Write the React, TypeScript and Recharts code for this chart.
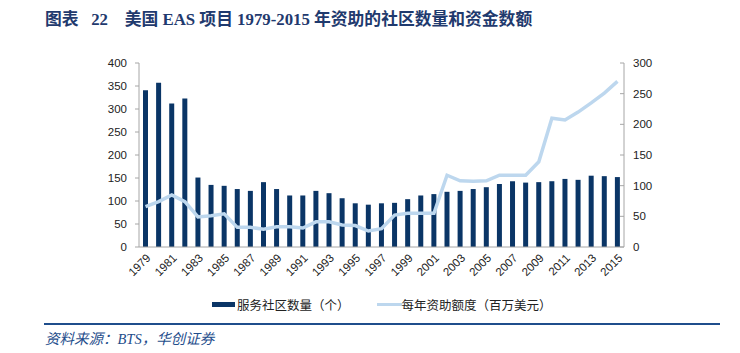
import React from "react";
import {
  ComposedChart,
  Bar,
  Line,
  XAxis,
  YAxis,
} from "recharts";

const years = [
  "1979", "1980", "1981", "1982", "1983", "1984", "1985", "1986", "1987", "1988",
  "1989", "1990", "1991", "1992", "1993", "1994", "1995", "1996", "1997", "1998",
  "1999", "2000", "2001", "2002", "2003", "2004", "2005", "2006", "2007", "2008",
  "2009", "2010", "2011", "2012", "2013", "2014", "2015",
];

// 服务社区数量（个）
const communities = [
  341, 357, 312, 323, 151, 135, 133, 126, 122, 141,
  126, 112, 112, 122, 117, 106, 95, 92, 95, 96,
  104, 112, 115, 120, 122, 126, 130, 137, 143, 140,
  141, 143, 148, 146, 155, 154, 152,
];

// 每年资助额度（百万美元）
const funding = [
  66, 74, 85, 74, 49, 51, 54, 32, 32, 29,
  33, 33, 31, 41, 41, 36, 35, 26, 30, 52,
  55, 55, 55, 117, 108, 107, 108, 117, 117, 117,
  139, 210, 207, 220, 235, 251, 270,
];

const leftTicks = [0, 50, 100, 150, 200, 250, 300, 350, 400];
const rightTicks = [0, 50, 100, 150, 200, 250, 300];

const BAR_COLOR = "#0A3566";
const LINE_COLOR = "#BDD7EE";
const AXIS_COLOR = "#A6A6A6";
const TITLE_COLOR = "#1F3A6E";
const SANS = "'Liberation Sans', Arial, sans-serif";
const CJK = "'Noto Sans CJK SC', sans-serif";

const data = years.map((y, i) => ({
  year: y,
  communities: communities[i],
  funding: funding[i],
}));

const tickStyle = { fontSize: 11.5, fill: "#222", fontFamily: SANS };

// right axis: ticks point inward, labels outside
const RightTick = (props: any) => {
  const { x, y, payload } = props;
  return (
    <g>
      <line x1={x - 4} y1={y} x2={x} y2={y} stroke={AXIS_COLOR} />
      <text x={x + 9} y={y} dy={4} textAnchor="start" {...tickStyle}>
        {payload.value}
      </text>
    </g>
  );
};

export default function App() {
  return (
    <div
      style={{
        position: "absolute",
        left: 0,
        top: 0,
        width: 740,
        height: 353,
        background: "#fff",
      }}
    >
      <div
        style={{
          position: "absolute",
          left: 45,
          top: 10,
          fontSize: 16.8,
          lineHeight: "20px",
          fontWeight: "bold",
          color: TITLE_COLOR,
          fontFamily: "'Liberation Serif', 'Noto Sans CJK SC', serif",
          whiteSpace: "nowrap",
        }}
      >
        图表{"\u2002\u00a0"}22{"\u3000"}美国 EAS 项目 1979-2015 年资助的社区数量和资金数额
      </div>

      <div style={{ position: "absolute", left: 0, top: 0 }}>
        <ComposedChart
          width={740}
          height={300}
          data={data}
          margin={{ top: 63, right: 0, left: 0, bottom: 13 }}
        >
          <XAxis
            dataKey="year"
            interval={1}
            angle={-45}
            textAnchor="end"
            height={40}
            tick={tickStyle}
            tickLine={false}
            tickSize={0}
            tickMargin={6}
            axisLine={{ stroke: AXIS_COLOR }}
          />
          <YAxis
            yAxisId="left"
            width={139}
            domain={[0, 400]}
            ticks={leftTicks}
            tick={tickStyle}
            tickSize={4}
            tickMargin={8}
            tickLine={{ stroke: AXIS_COLOR }}
            axisLine={{ stroke: AXIS_COLOR }}
          />
          <YAxis
            yAxisId="right"
            orientation="right"
            width={116}
            domain={[0, 300]}
            ticks={rightTicks}
            tick={<RightTick />}
            tickSize={0}
            tickMargin={0}
            tickLine={false}
            axisLine={{ stroke: AXIS_COLOR }}
          />
          <Bar
            yAxisId="left"
            dataKey="communities"
            name="服务社区数量（个）"
            fill={BAR_COLOR}
            barSize={5}
            isAnimationActive={false}
          />
          <Line
            yAxisId="right"
            dataKey="funding"
            name="每年资助额度（百万美元）"
            stroke={LINE_COLOR}
            strokeWidth={3.5}
            dot={false}
            type="linear"
            isAnimationActive={false}
          />
        </ComposedChart>
      </div>

      {/* legend */}
      <div
        style={{
          position: "absolute",
          left: 212,
          top: 294,
          height: 20,
          display: "flex",
          alignItems: "center",
          fontSize: 12.5,
          color: "#222",
          fontFamily: CJK,
          whiteSpace: "nowrap",
        }}
      >
        <span style={{ display: "inline-block", width: 23, height: 5, background: BAR_COLOR, marginRight: 2 }} />
        <span>服务社区数量（个）</span>
        <span style={{ display: "inline-block", width: 25, height: 3, background: LINE_COLOR, marginLeft: 27 }} />
        <span>每年资助额度（百万美元）</span>
      </div>

      <div
        style={{
          position: "absolute",
          left: 44,
          top: 323,
          width: 676,
          height: 2,
          background: "#1F4E8C",
        }}
      />
      <div
        style={{
          position: "absolute",
          left: 45,
          top: 330,
          fontSize: 14.5,
          lineHeight: "18px",
          fontStyle: "italic",
          color: "#1F4E8C",
          fontFamily: "'Liberation Serif', 'Noto Sans CJK SC', serif",
          whiteSpace: "nowrap",
        }}
      >
        资料来源：BTS，华创证券
      </div>
    </div>
  );
}
